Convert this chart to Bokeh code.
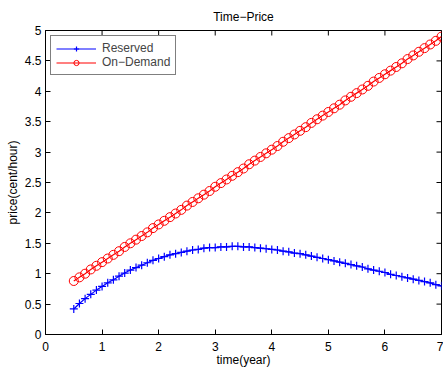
import math
from bokeh.plotting import figure
from bokeh.models import LinearAxis, FixedTicker, Range1d, Legend, LegendItem, Title
from bokeh.embed import file_html
from bokeh.resources import INLINE

time_years = [0.5, 0.6, 0.7, 0.8, 0.9, 1.0, 1.1, 1.2, 1.3, 1.4,
              1.5, 1.6, 1.7, 1.8, 1.9, 2.0, 2.1, 2.2, 2.3, 2.4,
              2.5, 2.6, 2.7, 2.8, 2.9, 3.0, 3.1, 3.2, 3.3, 3.4,
              3.5, 3.6, 3.7, 3.8, 3.9, 4.0, 4.1, 4.2, 4.3, 4.4,
              4.5, 4.6, 4.7, 4.8, 4.9, 5.0, 5.1, 5.2, 5.3, 5.4,
              5.5, 5.6, 5.7, 5.8, 5.9, 6.0, 6.1, 6.2, 6.3, 6.4,
              6.5, 6.6, 6.7, 6.8, 6.9, 7.0]

reserved = [0.42, 0.51, 0.59, 0.66, 0.73, 0.79, 0.85, 0.90, 0.96, 1.01,
            1.06, 1.10, 1.14, 1.18, 1.22, 1.25, 1.28, 1.31, 1.33, 1.35,
            1.37, 1.39, 1.40, 1.42, 1.43, 1.43, 1.44, 1.44, 1.45, 1.45,
            1.44, 1.44, 1.43, 1.42, 1.41, 1.40, 1.39, 1.37, 1.36, 1.34,
            1.33, 1.31, 1.29, 1.27, 1.25, 1.23, 1.21, 1.19, 1.17, 1.15,
            1.13, 1.11, 1.08, 1.06, 1.04, 1.02, 0.99, 0.97, 0.95, 0.93,
            0.91, 0.89, 0.87, 0.85, 0.82, 0.80]

on_demand = [0.88, 0.94, 1.00, 1.07, 1.13, 1.19, 1.25, 1.31, 1.37, 1.44,
             1.50, 1.56, 1.62, 1.68, 1.75, 1.81, 1.87, 1.93, 1.99, 2.05,
             2.12, 2.18, 2.24, 2.30, 2.36, 2.43, 2.49, 2.55, 2.61, 2.67,
             2.73, 2.80, 2.86, 2.92, 2.98, 3.04, 3.10, 3.17, 3.23, 3.29,
             3.35, 3.41, 3.48, 3.54, 3.60, 3.66, 3.72, 3.78, 3.85, 3.91,
             3.97, 4.03, 4.09, 4.16, 4.22, 4.28, 4.34, 4.40, 4.46, 4.53,
             4.59, 4.65, 4.71, 4.77, 4.83, 4.90]

x_ticks = [0, 1, 2, 3, 4, 5, 6, 7]
y_ticks = [0, 0.5, 1, 1.5, 2, 2.5, 3, 3.5, 4, 4.5, 5]
x_max = 7
y_max = 5

FONT = "Liberation Sans"
FS = "12px"

p = figure(width=443, height=369, output_backend="svg", toolbar_location=None,
           x_range=Range1d(0, x_max), y_range=Range1d(0, y_max),
           min_border_left=45, min_border_right=2, min_border_top=28, min_border_bottom=34,
           x_axis_location=None, y_axis_location=None)
p.grid.visible = False
p.outline_line_color = "black"
p.outline_line_width = 1
p.background_fill_color = "white"
p.border_fill_color = "white"

def style_axis(ax):
    ax.major_tick_in = 5
    ax.major_tick_out = 0
    ax.minor_tick_in = 0
    ax.minor_tick_out = 0
    ax.axis_line_color = "black"
    ax.major_tick_line_color = "black"
    ax.major_label_text_font = FONT
    ax.major_label_text_font_size = FS
    ax.major_label_text_color = "black"
    ax.axis_label_text_font = FONT
    ax.axis_label_text_font_size = FS
    ax.axis_label_text_font_style = "normal"
    ax.axis_label_text_color = "black"

xb = LinearAxis(ticker=FixedTicker(ticks=x_ticks), axis_label="time(year)")
style_axis(xb)
xb.major_label_standoff = 7
xb.axis_label_standoff = -1
p.add_layout(xb, "below")
yl = LinearAxis(ticker=FixedTicker(ticks=y_ticks), axis_label="price(cent/hour)")
style_axis(yl)
yl.major_label_standoff = 4
yl.axis_label_standoff = 2
p.add_layout(yl, "left")

# inward tick marks on the top and right edges of the box (clipped to the frame)
p.scatter(x_ticks, [y_max] * len(x_ticks), marker="dash", size=10, angle=math.pi / 2,
          line_color="black", line_width=1)
p.scatter([x_max] * len(y_ticks), y_ticks, marker="dash", size=10,
          line_color="black", line_width=1)

p.title = Title(text="Time\u2212Price", align="center", text_font=FONT,
                text_font_size=FS, text_font_style="normal", text_color="black",
                standoff=14)

r1l = p.line(time_years, reserved, line_color="blue", line_width=1.2)
r1m = p.scatter(time_years, reserved, marker="cross", size=8, line_color="blue",
                line_width=1.2)
r2l = p.line(time_years, on_demand, line_color="red", line_width=1.2)
r2m = p.scatter(time_years, on_demand, marker="circle", size=9, line_color="red",
                fill_color=None, line_width=1)

legend = Legend(items=[LegendItem(label="Reserved", renderers=[r1l, r1m]),
                       LegendItem(label="On\u2212Demand", renderers=[r2l, r2m])],
                location="top_left", margin=5, padding=5, spacing=0,
                glyph_width=40, glyph_height=13, label_standoff=6, label_width=62,
                label_height=13,
                border_line_color="black", border_line_width=1,
                label_text_font=FONT, label_text_font_size=FS,
                background_fill_color="white", background_fill_alpha=1)
p.add_layout(legend, "center")

open("out.html", "w").write(file_html(p, INLINE))
